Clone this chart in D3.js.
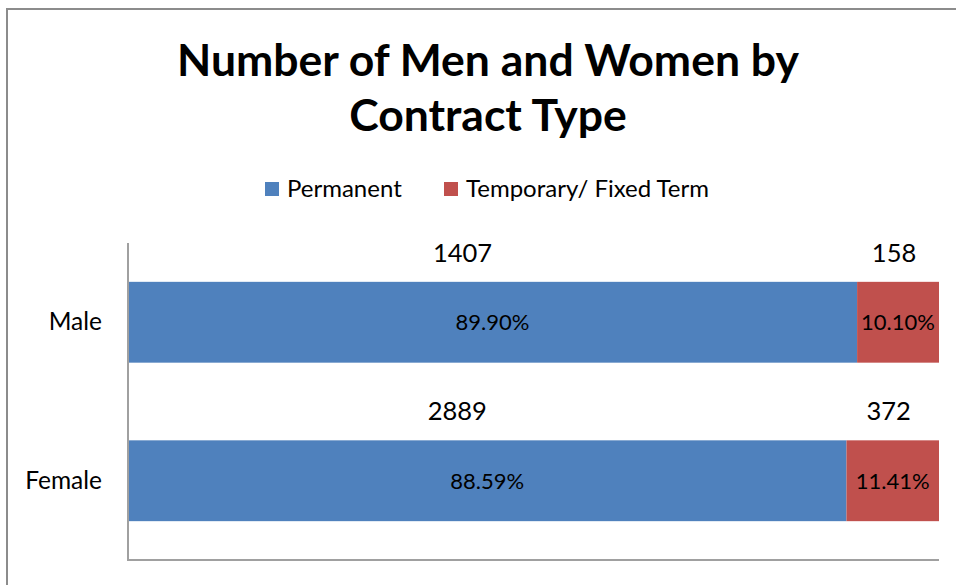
<!DOCTYPE html>
<html>
<head>
<meta charset="utf-8">
<script src="https://cdn.jsdelivr.net/npm/d3@7"></script>
<style>
  body { margin: 0; background: white; }
  text { font-family: Lato, "Open Sans", sans-serif; }
</style>
</head>
<body>
<svg id="chart" width="956" height="585"></svg>
<script>
const width = 956, height = 585;

const categories = ['Male', 'Female'];
const series = ['Permanent', 'Temporary/ Fixed Term'];
const counts = {
  'Permanent': [1407, 2889],
  'Temporary/ Fixed Term': [158, 372]
};
const shares = {
  'Permanent': [89.90, 88.59],
  'Temporary/ Fixed Term': [10.10, 11.41]
};
const colors = ['#4F81BD', '#C0504D'];
const titleLines = ['Number of Men and Women by', 'Contract Type'];

const svg = d3.select('#chart');

// outer chart border (runs off the right and bottom)
svg.append('rect')
  .attr('x', 7).attr('y', 9)
  .attr('width', 1000).attr('height', 1000)
  .attr('fill', 'white')
  .attr('stroke', '#8c8c8c')
  .attr('stroke-width', 2);

// title
svg.append('g')
  .selectAll('text')
  .data(titleLines)
  .join('text')
  .attr('x', 488)
  .attr('y', (d, i) => 76 + i * 55)
  .attr('text-anchor', 'middle')
  .style('font-size', '44.5px')
  .style('font-weight', 'bold')
  .text(d => d);

// legend
const legendX = [265, 444];
const legend = svg.append('g')
  .selectAll('g')
  .data(series)
  .join('g')
  .attr('transform', (d, i) => `translate(${legendX[i]},182)`);
legend.append('rect')
  .attr('width', 14).attr('height', 14)
  .attr('fill', (d, i) => colors[i]);
legend.append('text')
  .attr('x', 22).attr('y', 15)
  .style('font-size', '24px')
  .text(d => d);

// plot area
const x = d3.scaleLinear().domain([0, 100]).range([128, 939]);
const y = d3.scaleBand().domain(categories).range([243, 560]).paddingInner(0.49).paddingOuter(0.245);

const stackData = categories.map((c, i) => {
  const row = { cat: c };
  series.forEach(s => row[s] = shares[s][i]);
  return row;
});
const stacked = d3.stack().keys(series)(stackData);

const layers = svg.append('g')
  .selectAll('g')
  .data(stacked)
  .join('g')
  .attr('fill', (d, i) => colors[i]);

layers.selectAll('rect')
  .data(d => d)
  .join('rect')
  .attr('x', d => x(d[0]))
  .attr('y', d => y(d.data.cat))
  .attr('width', d => x(d[1]) - x(d[0]))
  .attr('height', y.bandwidth());

// percentage labels inside segments, counts above
layers.each(function(layer, li) {
  const g = d3.select(this);
  g.selectAll('text.pct')
    .data(layer)
    .join('text')
    .attr('class', 'pct')
    .attr('x', d => (x(d[0]) + x(d[1])) / 2)
    .attr('y', d => y(d.data.cat) + y.bandwidth() / 2 + 8)
    .attr('text-anchor', 'middle')
    .attr('fill', 'black')
    .style('font-size', '22px')
    .text(d => (d[1] - d[0]).toFixed(2) + '%');

  g.selectAll('text.cnt')
    .data(layer)
    .join('text')
    .attr('class', 'cnt')
    .attr('x', d => (x(d[0]) + x(d[1])) / 2 - (li === 0 ? 30 : 4))
    .attr('y', d => y(d.data.cat) - 20)
    .attr('text-anchor', 'middle')
    .attr('fill', 'black')
    .style('font-size', '25.5px')
    .text((d, i) => counts[series[li]][i]);
});

// category axis
svg.append('g')
  .selectAll('text')
  .data(categories)
  .join('text')
  .attr('x', 102)
  .attr('y', d => y(d) + y.bandwidth() / 2 + 8)
  .attr('text-anchor', 'end')
  .style('font-size', '24.5px')
  .text(d => d);

svg.append('line')
  .attr('x1', 128).attr('x2', 128)
  .attr('y1', 243).attr('y2', 560)
  .attr('stroke', '#a0a0a0').attr('stroke-width', 2);
svg.append('line')
  .attr('x1', 127).attr('x2', 939)
  .attr('y1', 560).attr('y2', 560)
  .attr('stroke', '#a0a0a0').attr('stroke-width', 2);
</script>
</body>
</html>
